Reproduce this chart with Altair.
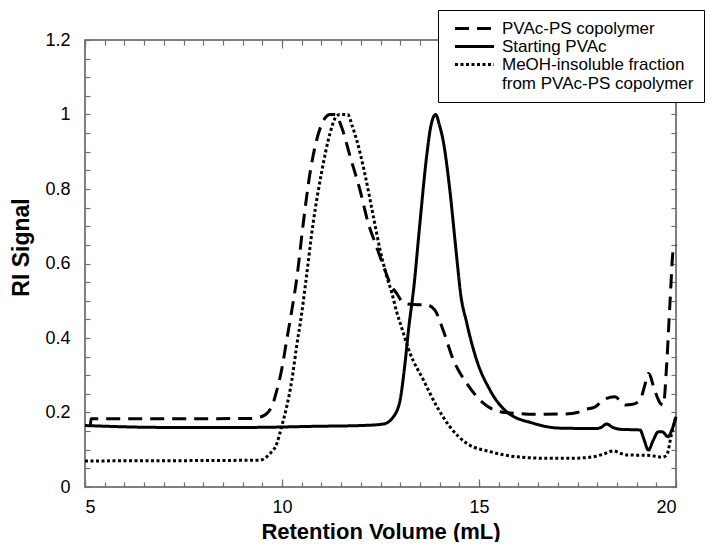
import altair as alt
import pandas as pd

# ---- data ----
series_names = ["PVAc-PS copolymer", "Starting PVAc",
                "MeOH-insoluble fraction from PVAc-PS copolymer"]

copoly_x = [5.14, 5.15, 7.0, 9.2, 9.5, 9.74, 9.87, 9.99, 10.12, 10.25, 10.37, 10.54,
            10.71, 10.88, 11.09, 11.22, 11.35, 11.51, 11.73, 11.98, 12.19, 12.40,
            12.61, 12.75, 12.91, 13.08, 13.3, 13.67, 13.88, 14.09, 14.35, 14.69,
            15.11, 15.53, 16.0, 16.38, 17.14, 17.5, 17.73, 17.95, 18.16, 18.45,
            18.71, 18.9, 19.09, 19.2, 19.30, 19.47, 19.6, 19.68, 19.76, 19.85,
            19.93, 20.0]
copoly_y = [0.165, 0.183, 0.183, 0.184, 0.19, 0.216, 0.26, 0.314, 0.395, 0.475, 0.556,
            0.708, 0.842, 0.932, 0.99, 1.0, 1.0, 0.967, 0.887, 0.797, 0.708, 0.645,
            0.583, 0.545, 0.52, 0.495, 0.49, 0.489, 0.475, 0.421, 0.341, 0.278,
            0.225, 0.202, 0.197, 0.195, 0.196, 0.2, 0.209, 0.215, 0.234, 0.242,
            0.22, 0.222, 0.234, 0.27, 0.305, 0.256, 0.225, 0.22, 0.323, 0.50,
            0.636, 0.65]

pvac_x = [5.0, 7.0, 9.19, 10.88, 12.0, 12.57, 12.83, 13.0, 13.12, 13.21, 13.35, 13.50,
          13.67, 13.78, 13.90, 14.0, 14.09, 14.26, 14.39, 14.47, 14.52, 14.69, 14.94,
          15.28, 15.70, 16.38, 17.06, 17.99, 18.1, 18.24, 18.4, 18.58, 19.09, 19.18,
          19.30, 19.42, 19.55, 19.65, 19.80, 19.9, 20.0]
pvac_y = [0.165, 0.16, 0.16, 0.163, 0.165, 0.169, 0.189, 0.235, 0.33, 0.421, 0.54,
          0.708, 0.887, 0.97, 1.0, 0.97, 0.93, 0.797, 0.663, 0.58, 0.53, 0.44, 0.341,
          0.26, 0.202, 0.171, 0.158, 0.157, 0.16, 0.169, 0.16, 0.155, 0.153, 0.13,
          0.099, 0.125, 0.148, 0.148, 0.135, 0.155, 0.189]

meoh_x = [5.0, 9.44, 9.6, 9.70, 9.87, 9.99, 10.12, 10.25, 10.37, 10.5, 10.61, 10.79,
          11.0, 11.22, 11.35, 11.47, 11.67, 11.78, 11.9, 12.1, 12.32, 12.49, 12.66,
          12.79, 12.91, 13.0, 13.25, 13.59, 13.93, 14.26, 14.69, 15.28, 15.96, 16.8,
          17.31, 17.9, 18.2, 18.41, 18.6, 18.75, 19.26, 19.5, 19.64, 19.76, 19.89, 20.0]
meoh_y = [0.07, 0.072, 0.08, 0.09, 0.117, 0.162, 0.216, 0.287, 0.377, 0.466, 0.556,
          0.708, 0.842, 0.95, 0.99, 1.0, 1.0, 0.97, 0.93, 0.842, 0.726, 0.636, 0.565,
          0.52, 0.47, 0.44, 0.359, 0.287, 0.216, 0.162, 0.117, 0.095, 0.081, 0.077,
          0.077, 0.081, 0.09, 0.097, 0.09, 0.086, 0.085, 0.082, 0.08, 0.085, 0.144, 0.19]

x_major = [5, 10, 15, 20]
x_minor = [5 + 0.5 * i for i in range(31)]
y_major = [0, 0.2, 0.4, 0.6, 0.8, 1.0, 1.2]
y_minor = [round(0.05 * i, 2) for i in range(25)]

rows = []
for name, xs, ys in zip(series_names, [copoly_x, pvac_x, meoh_x], [copoly_y, pvac_y, meoh_y]):
    for i, (xv, yv) in enumerate(zip(xs, ys)):
        rows.append({"series": name, "x": xv, "y": yv, "i": i})
df = pd.DataFrame(rows)

W, H = 591, 447
FONT = "Liberation Sans"

xs = alt.Scale(domain=[5, 20], nice=False, zero=False)
ys = alt.Scale(domain=[0, 1.2], nice=False, zero=False)

base = alt.Chart(df)

main = base.mark_line(strokeWidth=3, color="black", interpolate="monotone",
                      strokeCap="butt").encode(
    x=alt.X("x:Q", scale=xs, axis=alt.Axis(
        values=x_major, ticks=False, tickSize=0, domain=False, grid=False,
        labelFontSize=18, labelPadding=11, labelColor="black",
        title="Retention Volume (mL)", titleFontSize=22, titleFontWeight="bold",
        titleColor="black", titleX=W / 2, titleY=44, titleBaseline="middle",
        titleAlign="center")),
    y=alt.Y("y:Q", scale=ys, axis=alt.Axis(
        values=y_major, ticks=False, tickSize=0, domain=False, grid=False,
        labelFontSize=18, labelPadding=15, labelColor="black",
        labelExpr="datum.value == 0 ? '0' : datum.value == 1 ? '1' : format(datum.value, '.1f')",
        title="RI Signal", titleFontSize=23, titleFontWeight="bold",
        titleColor="black", titleX=-64, titleY=207, titleAngle=270,
        titleBaseline="middle", titleAlign="center")),
    strokeDash=alt.StrokeDash("series:N", scale=alt.Scale(
        domain=series_names, range=[[14, 8], [1, 0], [3, 2.5]]),
        legend=alt.Legend(
            title=None, orient="none", legendX=353, legendY=-30,
            symbolType="M-3,0L3,0", symbolSize=169, symbolStrokeWidth=3,
            symbolStrokeColor="black", symbolFillColor="transparent",
            labelFontSize=17, labelColor="black",
            labelOffset=19, padding=10, symbolOffset=18, rowPadding=0,
            strokeColor="black", fillColor="white", labelLimit=400,
            labelExpr=("datum.label == '" + series_names[2] + "' ? "
                       "['MeOH-insoluble fraction', 'from PVAc-PS copolymer'] : datum.label"))),
    detail="series:N",
    order="i:Q",
)

def ghost(xaxis, yaxis):
    return base.mark_line(strokeOpacity=0).encode(
        x=alt.X("x:Q", scale=xs, axis=xaxis),
        y=alt.Y("y:Q", scale=ys, axis=yaxis),
        detail="series:N",
        order="i:Q",
    )

TC = "#707070"
def tick_axis(orient, values, size):
    off = -H if orient in ("top", "bottom") else -W
    return alt.Axis(orient=orient, offset=off, values=values, labels=False,
                    domain=False, grid=False, title=None, ticks=True,
                    tickSize=size, tickColor=TC, tickWidth=1.2)

g1 = ghost(tick_axis("top", x_minor, 5), tick_axis("right", y_minor, 5))
g2 = ghost(tick_axis("bottom", x_minor, 5), tick_axis("left", y_minor, 5))
g3 = ghost(tick_axis("top", x_major, 8), None)
g4 = ghost(tick_axis("bottom", x_major, 8), None)

chart = alt.layer(main, g1, g2, g3, g4).resolve_axis(
    x="independent", y="independent"
).properties(
    width=W, height=H,
    autosize=alt.AutoSizeParams(type="none"),
    padding={"left": 77, "top": 32, "right": 32, "bottom": 55},
).configure(font=FONT).configure_view(
    stroke="#555555", strokeWidth=1.5
)

chart.save("out.html", embed_options={"renderer": "svg", "actions": False})
